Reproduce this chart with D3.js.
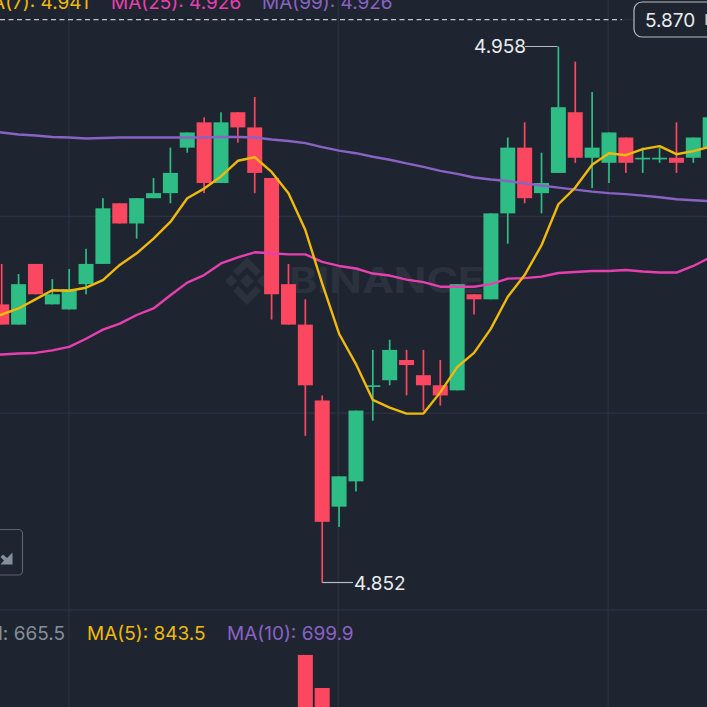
<!DOCTYPE html>
<html>

<head>
  <script src="https://d3js.org/d3.v7.min.js"></script>
  <style>
    html, body {
      margin: 0;
      padding: 0;
      background: #1e2530;
      overflow: hidden;
    }
    svg {
      display: block;
    }
    text {
      font-family: Inter, "Noto Sans", sans-serif;
    }
  </style>
</head>

<body>
  <script>
    const width = 707;
    const height = 707;

    // candles, left to right
    const opens = [4.907, 4.903, 4.915, 4.907, 4.906, 4.911, 4.915, 4.927, 4.923, 4.928, 4.929, 4.938, 4.943, 4.931, 4.945, 4.942, 4.932, 4.911, 4.903, 4.888, 4.867, 4.872, 4.891, 4.892, 4.896, 4.893, 4.891, 4.890, 4.909, 4.908, 4.925, 4.938, 4.929, 4.933, 4.945, 4.936, 4.935, 4.940, 4.936, 4.936, 4.936, 4.936, 4.938];
    const highs = [4.915, 4.913, 4.915, 4.912, 4.914, 4.918, 4.928, 4.927, 4.928, 4.932, 4.938, 4.941, 4.944, 4.945, 4.945, 4.948, 4.932, 4.915, 4.908, 4.889, 4.873, 4.886, 4.898, 4.900, 4.898, 4.898, 4.896, 4.911, 4.909, 4.925, 4.940, 4.943, 4.937, 4.958, 4.955, 4.949, 4.941, 4.940, 4.938, 4.938, 4.943, 4.940, 4.944];
    const lows = [4.903, 4.903, 4.909, 4.907, 4.906, 4.909, 4.915, 4.923, 4.920, 4.928, 4.927, 4.937, 4.929, 4.931, 4.939, 4.929, 4.904, 4.903, 4.881, 4.852, 4.863, 4.870, 4.884, 4.891, 4.889, 4.886, 4.887, 4.890, 4.905, 4.908, 4.919, 4.927, 4.925, 4.933, 4.935, 4.930, 4.931, 4.933, 4.933, 4.935, 4.933, 4.935, 4.938];
    const closes = [4.903, 4.911, 4.909, 4.909, 4.910, 4.915, 4.926, 4.923, 4.928, 4.929, 4.933, 4.941, 4.931, 4.943, 4.942, 4.933, 4.909, 4.903, 4.891, 4.864, 4.873, 4.886, 4.891, 4.898, 4.895, 4.891, 4.889, 4.911, 4.908, 4.925, 4.938, 4.928, 4.931, 4.946, 4.936, 4.938, 4.941, 4.935, 4.936, 4.936, 4.935, 4.940, 4.944];

    // moving averages start one candle left of the crop
    const ma7 = [4.9040, 4.9050, 4.9062, 4.9080, 4.9098, 4.9097, 4.9103, 4.9118, 4.9148, 4.9171, 4.9200, 4.9233, 4.9280, 4.9299, 4.9323, 4.9354, 4.9361, 4.9332, 4.9290, 4.9217, 4.9111, 4.9012, 4.8952, 4.8881, 4.8866, 4.8854, 4.8854, 4.8896, 4.8946, 4.8974, 4.9022, 4.9085, 4.9128, 4.9187, 4.9268, 4.9301, 4.9346, 4.9369, 4.9365, 4.9377, 4.9383, 4.9367, 4.9373, 4.9382];
    const ma25 = [4.8970, 4.8971, 4.8973, 4.8974, 4.8979, 4.8986, 4.9002, 4.9020, 4.9032, 4.9049, 4.9062, 4.9088, 4.9113, 4.9128, 4.9151, 4.9163, 4.9173, 4.9171, 4.9169, 4.9169, 4.9154, 4.9146, 4.9141, 4.9131, 4.9127, 4.9119, 4.9114, 4.9105, 4.9105, 4.9105, 4.9110, 4.9121, 4.9122, 4.9125, 4.9132, 4.9134, 4.9136, 4.9136, 4.9138, 4.9135, 4.9133, 4.9133, 4.9146, 4.9163];
    const ma99 = [4.9414, 4.9410, 4.9406, 4.9404, 4.9401, 4.9400, 4.9398, 4.9399, 4.9400, 4.9400, 4.9400, 4.9400, 4.9400, 4.9400, 4.9401, 4.9401, 4.9400, 4.9396, 4.9393, 4.9389, 4.9381, 4.9374, 4.9369, 4.9362, 4.9356, 4.9349, 4.9342, 4.9334, 4.9328, 4.9321, 4.9317, 4.9314, 4.9309, 4.9305, 4.9301, 4.9297, 4.9293, 4.9290, 4.9288, 4.9285, 4.9282, 4.9278, 4.9276, 4.9274];

    // only two volume bars reach into the crop
    const volumeIndex = [18, 19];
    const volumes = [2720, 2100];

    const gridPrices = [4.9244, 4.8855, 4.8466];
    const gridIndex = [3.99, 19.95, 35.95];

    const highLabel = { index: 33, price: 4.958, text: "4.958" };
    const lowLabel = { index: 19, price: 4.852, text: "4.852" };
    const lastPrice = 4.9633;

    const red = "#fb4760";
    const green = "#2ebd85";
    const yellow = "#f0b90b";
    const pink = "#e83fb0";
    const purple = "#8a62c4";
    const gridColor = "#2c3340";

    const svg = d3.select("body")
      .append("svg")
      .attr("width", width)
      .attr("height", height);

    const x = d3.scaleLinear().domain([0, 42]).range([1.7, 710.2]);
    const y = d3.scaleLinear().domain([4.852, 4.958]).range([582.5, 46.5]);
    const yVol = d3.scaleLinear().domain([0, 3000]).range([800, 640]);

    const bodyWidth = 15;
    const wickWidth = 1.7;

    // grid
    svg.selectAll("line.gridx")
      .data(gridIndex)
      .enter()
      .append("line")
      .attr("x1", d => x(d))
      .attr("x2", d => x(d))
      .attr("y1", 0)
      .attr("y2", height)
      .attr("stroke", gridColor)
      .attr("stroke-width", 1.2);

    svg.selectAll("line.gridy")
      .data(gridPrices)
      .enter()
      .append("line")
      .attr("x1", 0)
      .attr("x2", width)
      .attr("y1", d => y(d))
      .attr("y2", d => y(d))
      .attr("stroke", gridColor)
      .attr("stroke-width", 1.2);

    // watermark
    const mark = svg.append("g")
      .attr("transform", "translate(247,281)")
      .attr("fill", "#2b323d");
    mark.append("path").attr("d", "M0,-7L7,0L0,7L-7,0Z");
    mark.append("path").attr("d", "M-22,0L-16,-6L-10,0L-16,6Z");
    mark.append("path").attr("d", "M22,0L16,-6L10,0L16,6Z");
    mark.append("path").attr("d", "M0,-24L14,-10L9,-5L0,-14L-9,-5L-14,-10Z");
    mark.append("path").attr("d", "M0,24L14,10L9,5L0,14L-9,5L-14,10Z");
    svg.append("text")
      .attr("x", 289)
      .attr("y", 293)
      .attr("fill", "#2b323d")
      .attr("font-size", 35)
      .attr("font-weight", 700)
      .attr("textLength", 195)
      .attr("lengthAdjust", "spacingAndGlyphs")
      .text("BINANCE");

    // last price line and badge
    svg.append("line")
      .attr("x1", 0)
      .attr("x2", 622)
      .attr("y1", y(lastPrice))
      .attr("y2", y(lastPrice))
      .attr("stroke", "#c4c7cc")
      .attr("stroke-width", 1.2)
      .attr("stroke-dasharray", "5 3.5");
    svg.append("line")
      .attr("x1", 622)
      .attr("x2", 634)
      .attr("y1", y(lastPrice))
      .attr("y2", y(lastPrice))
      .attr("stroke", gridColor)
      .attr("stroke-width", 1.2);
    svg.append("rect")
      .attr("x", 634)
      .attr("y", 2)
      .attr("width", 100)
      .attr("height", 35)
      .attr("rx", 8)
      .attr("fill", "#1e2530")
      .attr("stroke", "#b7bbc2")
      .attr("stroke-width", 1.2);
    svg.append("text")
      .attr("x", 645)
      .attr("y", 27)
      .attr("fill", "#eaecef")
      .attr("font-size", 19)
      .text("5.870");
    svg.append("rect")
      .attr("x", 705.5)
      .attr("y", 14)
      .attr("width", 1.5)
      .attr("height", 11)
      .attr("fill", "#c4c7cc");

    // candles
    const candles = d3.range(opens.length);
    const color = i => closes[i] >= opens[i] ? green : red;

    svg.selectAll("rect.wick")
      .data(candles)
      .enter()
      .append("rect")
      .attr("x", i => x(i) - wickWidth / 2)
      .attr("y", i => y(highs[i]))
      .attr("width", wickWidth)
      .attr("height", i => y(lows[i]) - y(highs[i]))
      .attr("fill", color);

    svg.selectAll("rect.body")
      .data(candles)
      .enter()
      .append("rect")
      .attr("x", i => x(i) - bodyWidth / 2)
      .attr("y", i => y(Math.max(opens[i], closes[i])))
      .attr("width", bodyWidth)
      .attr("height", i => Math.max(wickWidth, Math.abs(y(opens[i]) - y(closes[i]))))
      .attr("fill", color);

    // moving averages
    const line = d3.line()
      .x((d, i) => x(i - 1))
      .y(d => y(d));

    [[ma99, purple], [ma25, pink], [ma7, yellow]].forEach(function (s) {
      svg.append("path")
        .attr("d", line(s[0]))
        .attr("fill", "none")
        .attr("stroke", s[1])
        .attr("stroke-width", 2.4)
        .attr("stroke-linejoin", "round");
    });

    // high / low callouts
    svg.append("path")
      .attr("d", `M${x(highLabel.index) - 1},${y(highLabel.price)}H525`)
      .attr("fill", "none")
      .attr("stroke", "#b7bbc2")
      .attr("stroke-width", 1.2);
    svg.append("text")
      .attr("x", 474)
      .attr("y", 53)
      .attr("fill", "#eaecef")
      .attr("font-size", 19)
      .text(highLabel.text);

    svg.append("path")
      .attr("d", `M${x(lowLabel.index)},${y(lowLabel.price)}H353`)
      .attr("fill", "none")
      .attr("stroke", "#b7bbc2")
      .attr("stroke-width", 1.2);
    svg.append("text")
      .attr("x", 354)
      .attr("y", 590)
      .attr("fill", "#eaecef")
      .attr("font-size", 19)
      .text(lowLabel.text);

    // top legend
    const topLegend = [
      { t: "MA(7): 4.941", x: 89, anchor: "end", c: yellow },
      { t: "MA(25): 4.926", x: 111, anchor: "start", c: pink },
      { t: "MA(99): 4.926", x: 262, anchor: "start", c: purple }
    ];
    svg.selectAll("text.top")
      .data(topLegend)
      .enter()
      .append("text")
      .attr("x", d => d.x)
      .attr("y", 8.5)
      .attr("text-anchor", d => d.anchor)
      .attr("fill", d => d.c)
      .attr("font-size", 19)
      .text(d => d.t);

    // volume legend
    const volLegend = [
      { t: "Vol: 665.5", x: 65, anchor: "end", c: "#848e9c" },
      { t: "MA(5): 843.5", x: 87, anchor: "start", c: yellow },
      { t: "MA(10): 699.9", x: 227, anchor: "start", c: purple }
    ];
    svg.selectAll("text.vol")
      .data(volLegend)
      .enter()
      .append("text")
      .attr("x", d => d.x)
      .attr("y", 640)
      .attr("text-anchor", d => d.anchor)
      .attr("fill", d => d.c)
      .attr("font-size", 19)
      .text(d => d.t);

    // volume bars
    svg.selectAll("rect.vol")
      .data(volumes)
      .enter()
      .append("rect")
      .attr("x", (d, i) => x(volumeIndex[i]) - bodyWidth / 2)
      .attr("y", d => yVol(d))
      .attr("width", bodyWidth)
      .attr("height", d => yVol(0) - yVol(d))
      .attr("fill", red);

    // collapse button at the left edge
    svg.append("rect")
      .attr("x", -30)
      .attr("y", 529.5)
      .attr("width", 52.5)
      .attr("height", 45.5)
      .attr("rx", 4)
      .attr("fill", "none")
      .attr("stroke", "#5a616c")
      .attr("stroke-width", 1.2);
    svg.append("path")
      .attr("d", "M12.5,552.5V564.5H0.5L4,560.5L0.5,557L3,554.5L7,558Z")
      .attr("fill", "#848e9c");
  </script>
</body>

</html>
